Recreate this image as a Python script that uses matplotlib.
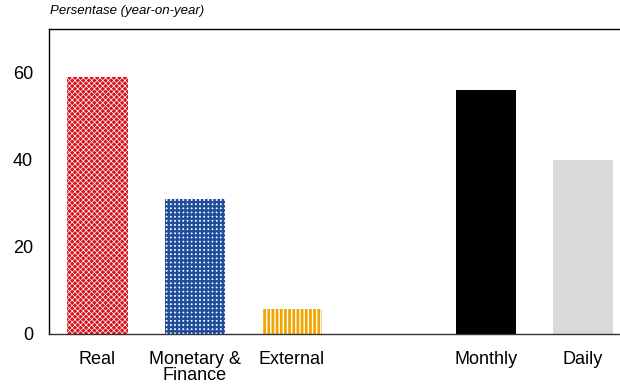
import numpy as np
import matplotlib.pyplot as plt

plt.rcParams['font.family'] = ['Liberation Sans', 'DejaVu Sans']

categories = ['Real', 'Monetary &\nFinance', 'External', '', 'Monthly', 'Daily']
values = [59, 31, 5.7, 0, 56, 40]
yticks = [0, 20, 40, 60]

fig = plt.figure(figsize=(6.2, 3.86), dpi=100)
ax = fig.add_axes([49/620, 1 - 334/386, 1 - 49/620, 305/386])

x = np.arange(len(categories))
w = 0.62

# patterned fills: face colour + hatch colour + hatch line width
styles = [
    dict(color='#d7141c', hatch='xxxxxx', ec='white', hw=0.5),
    dict(color='white', hatch='++++', ec='#1f4e9c', hw=1.7),
    dict(color='white', hatch='||||', ec='#f0a500', hw=2.0),
    None,
    dict(color='black', hatch=None, ec='black', hw=1.0),
    dict(color='#d9d9d9', hatch=None, ec='#d9d9d9', hw=1.0),
]

for xi, v, st in zip(x, values, styles):
    if st is None:
        continue
    with plt.rc_context({'hatch.linewidth': st['hw']}):
        bars = ax.bar(xi, v, width=w, color=st['color'], hatch=st['hatch'],
                      edgecolor=st['ec'], linewidth=0)
    for b in bars:
        if hasattr(b, 'set_hatch_linewidth'):
            b.set_hatch_linewidth(st['hw'])

ax.set_xlim(-0.5, 5.38)
ax.set_ylim(0, 70)
ax.set_yticks(yticks)
ax.set_xticks(x)
ax.set_xticklabels(categories, fontsize=13, linespacing=0.92)
ax.tick_params(axis='both', length=0, labelsize=13)
ax.tick_params(axis='y', pad=11.5)
ax.tick_params(axis='x', pad=12)
ax.spines['right'].set_visible(False)
for s in ['left', 'top', 'bottom']:
    ax.spines[s].set_linewidth(1.0)
ax.spines['bottom'].set_color('#333333')

fig.text(50/620, 1 - 11/386, 'Persentase (year-on-year)', fontsize=9.5,
         style='italic', va='center', ha='left')

fig.savefig('out.png', dpi=100)
